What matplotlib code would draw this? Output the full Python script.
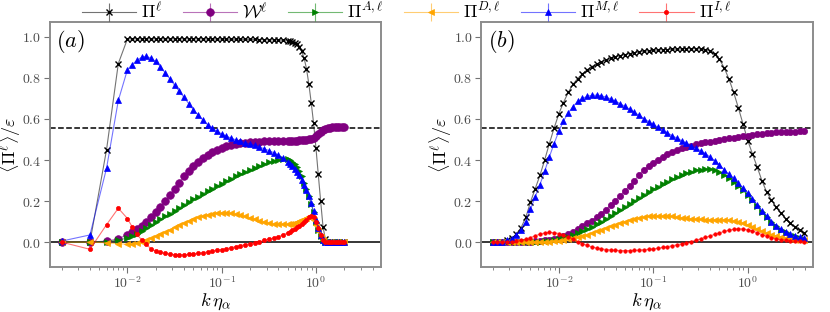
import matplotlib
matplotlib.use("Agg")
import matplotlib.pyplot as plt
import matplotlib.colors as mcolors

plt.rcParams['mathtext.fontset'] = 'cm'
plt.rcParams['font.family'] = ['DejaVu Serif']

# ---- panel (a) ----
k_a = [0.002, 0.004, 0.006, 0.008, 0.010,
       0.0112, 0.0126, 0.0141, 0.0158, 0.0178, 0.020, 0.0224, 0.0251, 0.0282, 0.0316,
       0.0355, 0.0398, 0.0447, 0.0501, 0.0562, 0.0631, 0.0708, 0.0794, 0.0891, 0.100,
       0.112, 0.126, 0.141, 0.158, 0.178, 0.200, 0.224, 0.251, 0.282, 0.316, 0.355, 0.398, 0.447,
       0.501, 0.531, 0.562, 0.596, 0.631, 0.668, 0.708, 0.750, 0.794, 0.841, 0.891, 0.944,
       1.000, 1.059, 1.122, 1.189, 1.259, 1.334, 1.413, 1.496, 1.585, 1.679, 1.778, 1.884, 1.995]

pi_a = [0.0, 0.0, 0.45, 0.87, 0.99,
        0.99, 0.99, 0.99, 0.99, 0.99, 0.99, 0.99, 0.99, 0.99, 0.99,
        0.99, 0.99, 0.99, 0.99, 0.99, 0.99, 0.989, 0.989, 0.989, 0.989,
        0.988, 0.988, 0.988, 0.988, 0.987, 0.987, 0.987, 0.986, 0.986, 0.985, 0.985, 0.984, 0.983,
        0.98, 0.978, 0.975, 0.97, 0.963, 0.95, 0.93, 0.895, 0.845, 0.77, 0.68, 0.58,
        0.46, 0.33, 0.20, 0.075, 0.015, 0.002, 0, 0, 0, 0, 0, 0, 0]

w_a = [0.0, 0.0, 0.005, 0.016, 0.037,
       0.048, 0.062, 0.08, 0.098, 0.12, 0.145, 0.17, 0.20, 0.23, 0.26,
       0.29, 0.32, 0.345, 0.37, 0.39, 0.41, 0.425, 0.44, 0.45, 0.46,
       0.467, 0.473, 0.478, 0.482, 0.485, 0.487, 0.489, 0.49, 0.491, 0.492, 0.492, 0.493, 0.493,
       0.494, 0.494, 0.494, 0.495, 0.495, 0.496, 0.496, 0.497, 0.498, 0.50, 0.503, 0.508,
       0.515, 0.525, 0.536, 0.546, 0.553, 0.557, 0.558, 0.559, 0.559, 0.559, 0.559, 0.559, 0.559]

a_a = [0.0, 0.0, 0.003, 0.01, 0.02,
       0.03, 0.042, 0.055, 0.069, 0.083, 0.097, 0.111, 0.125, 0.139, 0.153,
       0.167, 0.181, 0.195, 0.209, 0.222, 0.235, 0.248, 0.261, 0.273, 0.285,
       0.297, 0.309, 0.32, 0.331, 0.342, 0.352, 0.362, 0.371, 0.38, 0.388, 0.395, 0.401, 0.405,
       0.405, 0.40, 0.392, 0.38, 0.365, 0.345, 0.32, 0.29, 0.26, 0.225, 0.185, 0.145,
       0.10, 0.06, 0.028, 0.008, 0.0, 0, 0, 0, 0, 0, 0, 0, 0]

d_a = [0.0, 0.0, -0.003, -0.008, -0.01,
       -0.008, -0.003, 0.003, 0.012, 0.02, 0.03, 0.04, 0.05, 0.061, 0.072,
       0.083, 0.094, 0.104, 0.113, 0.121, 0.128, 0.134, 0.139, 0.142, 0.143,
       0.142, 0.14, 0.136, 0.131, 0.125, 0.119, 0.112, 0.105, 0.099, 0.094, 0.09, 0.087, 0.086,
       0.087, 0.088, 0.09, 0.093, 0.097, 0.101, 0.106, 0.111, 0.116, 0.12, 0.121, 0.11,
       0.085, 0.055, 0.025, 0.008, 0.0, 0, 0, 0, 0, 0, 0, 0, 0]

m_a = [0.005, 0.035, 0.36, 0.69, 0.84,
       0.865, 0.885, 0.90, 0.905, 0.895, 0.88, 0.855, 0.825, 0.795, 0.765,
       0.735, 0.705, 0.675, 0.645, 0.62, 0.595, 0.572, 0.555, 0.54, 0.527,
       0.516, 0.506, 0.498, 0.491, 0.484, 0.478, 0.471, 0.463, 0.455, 0.446, 0.436, 0.424, 0.41,
       0.39, 0.38, 0.37, 0.357, 0.342, 0.325, 0.305, 0.28, 0.255, 0.225, 0.19, 0.15,
       0.107, 0.067, 0.033, 0.01, 0.002, 0, 0, 0, 0, 0, 0, 0, 0]

i_a = [0.0, -0.035, 0.085, 0.165, 0.115,
       0.075, 0.038, 0.012, -0.01, -0.033, -0.043, -0.05, -0.055, -0.059, -0.061,
       -0.062, -0.062, -0.06, -0.058, -0.055, -0.052, -0.048, -0.044, -0.04, -0.036,
       -0.032, -0.027, -0.022, -0.017, -0.012, -0.007, -0.002, 0.003, 0.008, 0.014, 0.02, 0.027, 0.035,
       0.045, 0.05, 0.057, 0.064, 0.072, 0.08, 0.09, 0.10, 0.11, 0.12, 0.125, 0.12,
       0.10, 0.07, 0.035, 0.01, 0.0, 0, 0, 0, 0, 0, 0, 0, 0]

# ---- panel (b) ----
k_b = [0.002, 0.00224, 0.00251, 0.00282, 0.00316, 0.00355, 0.00398, 0.00447, 0.00501, 0.00562,
       0.00631, 0.00708, 0.00794, 0.00891, 0.0100, 0.0112, 0.0126, 0.0141, 0.0158, 0.0178,
       0.0200, 0.0224, 0.0251, 0.0282, 0.0316, 0.0355, 0.0398, 0.0447, 0.0501, 0.0562,
       0.0631, 0.0708, 0.0794, 0.0891, 0.100, 0.112, 0.126, 0.141, 0.158, 0.178,
       0.200, 0.224, 0.251, 0.282, 0.316, 0.355, 0.398, 0.447, 0.501, 0.562,
       0.631, 0.708, 0.794, 0.891, 1.00, 1.12, 1.26, 1.41, 1.58, 1.78,
       2.00, 2.24, 2.51, 2.82, 3.16, 3.55, 3.98]

pi_b = [0.0, 0.001, 0.003, 0.008, 0.018, 0.04, 0.07, 0.12, 0.195, 0.26,
        0.325, 0.40, 0.48, 0.555, 0.625, 0.68, 0.73, 0.768, 0.797, 0.82,
        0.84, 0.855, 0.868, 0.878, 0.887, 0.895, 0.902, 0.908, 0.913, 0.918,
        0.922, 0.926, 0.929, 0.932, 0.934, 0.936, 0.937, 0.938, 0.939, 0.94,
        0.941, 0.942, 0.942, 0.942, 0.941, 0.938, 0.93, 0.915, 0.89, 0.85,
        0.795, 0.73, 0.655, 0.575, 0.495, 0.43, 0.365, 0.30, 0.245, 0.205,
        0.17, 0.14, 0.115, 0.093, 0.074, 0.058, 0.045]

w_b = [0.0, 0.0, 0.0, 0.0, 0.0, 0.001, 0.001, 0.002, 0.003, 0.004,
       0.006, 0.008, 0.011, 0.015, 0.021, 0.029, 0.039, 0.05, 0.063, 0.077,
       0.091, 0.105, 0.12, 0.138, 0.158, 0.18, 0.202, 0.225, 0.25, 0.275,
       0.30, 0.326, 0.35, 0.37, 0.387, 0.402, 0.416, 0.428, 0.44, 0.449,
       0.457, 0.464, 0.47, 0.476, 0.481, 0.486, 0.49, 0.494, 0.498, 0.502,
       0.506, 0.509, 0.512, 0.516, 0.519, 0.522, 0.525, 0.528, 0.53, 0.532,
       0.534, 0.535, 0.536, 0.537, 0.538, 0.539, 0.54]

a_b = [0.0, 0.0, 0.0, 0.0, 0.0, 0.0, 0.0, 0.001, 0.001, 0.002,
       0.003, 0.004, 0.006, 0.009, 0.013, 0.018, 0.025, 0.033, 0.043, 0.053,
       0.064, 0.075, 0.087, 0.1, 0.113, 0.127, 0.141, 0.156, 0.171, 0.186,
       0.201, 0.216, 0.23, 0.244, 0.257, 0.27, 0.283, 0.295, 0.306, 0.317,
       0.327, 0.336, 0.343, 0.349, 0.353, 0.356, 0.355, 0.35, 0.34, 0.327,
       0.312, 0.294, 0.274, 0.252, 0.228, 0.203, 0.176, 0.148, 0.121, 0.097,
       0.077, 0.06, 0.047, 0.037, 0.029, 0.022, 0.017]

d_b = [0.0, 0.0, 0.0, 0.0, 0.0, 0.0, 0.0, 0.0, 0.0, 0.0,
       0.0, 0.001, 0.002, 0.004, 0.006, 0.009, 0.013, 0.018, 0.024, 0.03,
       0.037, 0.045, 0.053, 0.061, 0.069, 0.077, 0.085, 0.093, 0.10, 0.107,
       0.113, 0.118, 0.122, 0.125, 0.127, 0.128, 0.128, 0.127, 0.125, 0.122,
       0.119, 0.116, 0.114, 0.112, 0.111, 0.11, 0.11, 0.11, 0.11, 0.109,
       0.107, 0.104, 0.099, 0.092, 0.084, 0.075, 0.065, 0.055, 0.045, 0.037,
       0.03, 0.024, 0.019, 0.015, 0.012, 0.01, 0.008]

m_b = [0.0, 0.001, 0.003, 0.008, 0.016, 0.033, 0.06, 0.10, 0.16, 0.22,
       0.28, 0.345, 0.415, 0.48, 0.54, 0.59, 0.63, 0.66, 0.685, 0.70,
       0.71, 0.715, 0.716, 0.713, 0.706, 0.697, 0.686, 0.674, 0.661, 0.647,
       0.632, 0.617, 0.602, 0.587, 0.573, 0.559, 0.545, 0.532, 0.519, 0.506,
       0.494, 0.482, 0.47, 0.458, 0.445, 0.431, 0.415, 0.397, 0.376, 0.353,
       0.33, 0.31, 0.287, 0.263, 0.238, 0.21, 0.182, 0.153, 0.125, 0.10,
       0.08, 0.064, 0.05, 0.039, 0.03, 0.023, 0.018]

i_b = [0.0, 0.0, 0.001, 0.001, 0.002, 0.004, 0.008, 0.014, 0.022, 0.031,
       0.039, 0.045, 0.047, 0.046, 0.042, 0.035, 0.025, 0.014, 0.003, -0.007,
       -0.016, -0.023, -0.029, -0.033, -0.036, -0.038, -0.04, -0.041, -0.041, -0.041,
       -0.04, -0.039, -0.037, -0.035, -0.033, -0.03, -0.026, -0.022, -0.018, -0.013,
       -0.008, -0.003, 0.003, 0.009, 0.016, 0.023, 0.03, 0.038, 0.045, 0.052,
       0.058, 0.063, 0.065, 0.064, 0.06, 0.054, 0.046, 0.037, 0.029, 0.022,
       0.016, 0.012, 0.009, 0.007, 0.005, 0.004, 0.003]

labels = [r'$\Pi^{\ell}$', r'$\mathcal{W}^{\ell}$', r'$\Pi^{A,\ell}$',
          r'$\Pi^{D,\ell}$', r'$\Pi^{M,\ell}$', r'$\Pi^{I,\ell}$']
colors = ['black', 'purple', 'green', 'orange', 'blue', 'red']
markers = ['x', 'o', '>', '<', '^', 'o']
dashed_level = 0.556


def draw_panel(ax, k, series, msizes, tag):
    ax.axhline(0, color='0.15', lw=1.3, zorder=1)
    ax.axhline(dashed_level, color='k', ls='--', lw=1.1, zorder=1)
    handles = []
    for y, c, m, ms in zip(series, colors, markers, msizes):
        faded = mcolors.to_rgba(c, 0.55)
        h = ax.errorbar(k, y, yerr=0, color=faded, ecolor=faded, lw=0.8,
                        marker=m, ms=ms, mfc=c, mec=c,
                        mew=1.0 if m == 'x' else 0.5, zorder=3)
        handles.append(h)
    ax.set_xscale('log')
    ax.set_xlim(0.0015, 4.9)
    ax.set_ylim(-0.12, 1.073)
    ax.set_xticks([1e-2, 1e-1, 1])
    ax.set_xticklabels([r'$10^{-2}$', r'$10^{-1}$', r'$10^{0}$'])
    yt = [0.0, 0.2, 0.4, 0.6, 0.8, 1.0]
    ax.set_yticks(yt)
    ax.set_yticklabels([r'$%.1f$' % v for v in yt])
    ax.tick_params(axis='both', which='major', labelsize=10, colors='0.45',
                   labelcolor='0.3', length=4, width=0.8, pad=2)
    ax.tick_params(axis='x', which='minor', colors='0.45', length=2.5, width=0.6)
    for s in ax.spines.values():
        s.set_color('0.55')
        s.set_linewidth(1.4)
    ax.set_xlabel(r'$k\,\eta_\alpha$', fontsize=13.5)
    ax.xaxis.set_label_coords(0.5, -0.1)
    ax.set_ylabel(r'$\langle \Pi^{\ell} \rangle / \varepsilon$', fontsize=13)
    ax.yaxis.set_label_coords(-0.082, 0.5)
    ax.text(0.02, 0.975, tag, transform=ax.transAxes, fontsize=16, va='top', ha='left')
    return handles


fig = plt.figure(figsize=(8.3, 3.12), dpi=100)
ax1 = fig.add_axes([0.060, 0.145, 0.399, 0.785])
ax2 = fig.add_axes([0.5795, 0.145, 0.400, 0.785])

hs = draw_panel(ax1, k_a, [pi_a, w_a, a_a, d_a, m_a, i_a], [4.5, 5.5, 5, 5, 5, 3], r'$(a)$')
draw_panel(ax2, k_b, [pi_b, w_b, a_b, d_b, m_b, i_b], [4, 4.5, 4.5, 4.5, 4.5, 2.5], r'$(b)$')

fig.legend(hs, labels, loc='upper center', bbox_to_anchor=(0.49, 1.045), ncol=6,
           frameon=False, fontsize=13, handlelength=3.0, handletextpad=0.3,
           columnspacing=1.1)

fig.savefig('out.png', dpi=100)
